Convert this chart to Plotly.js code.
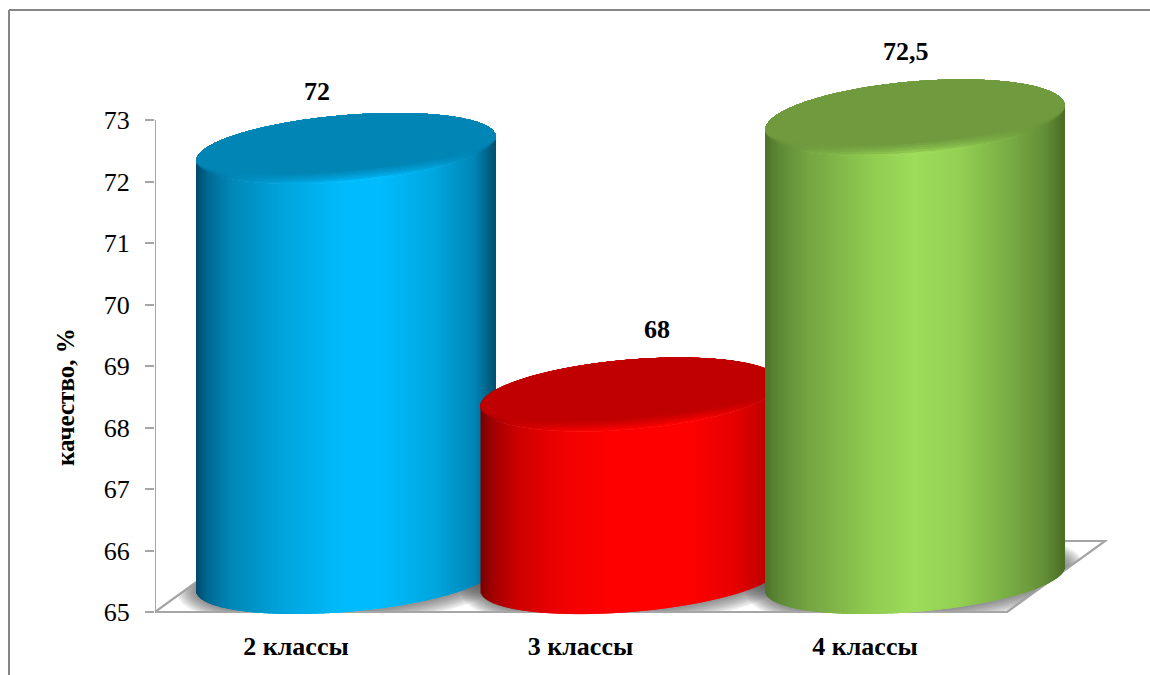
<!DOCTYPE html>
<html>
<head>
<meta charset="utf-8">
<script src="https://cdn.plot.ly/plotly-3.0.1.min.js"></script>
<style>html,body{margin:0;padding:0;background:#fff;overflow:hidden}</style>
</head>
<body>
<div id="chart" style="width:1150px;height:675px"></div>
<script>
// ---- data ----
var categories = ['2 классы', '3 классы', '4 классы'];
var values = [72, 68, 72.5];
var valueLabels = ['72', '68', '72,5'];
var yTicks = [65, 66, 67, 68, 69, 70, 71, 72, 73];

// ---- styling / layout constants (pixels of the 1150x675 frame) ----
var serif = '"Liberation Serif", "Times New Roman", serif';
var PX_X = 284.5, PX_Y = 61.5;          // pixels per category, per percent
var L = 155, R = 1110, T = 15, B = 625; // plot rectangle
var X0 = 296, Y65 = 612;                // pixel of first category, of value 65
var xr = [(L - X0) / PX_X, (R - X0) / PX_X];
var yr = [65 - (B - Y65) / PX_Y, 65 + (Y65 - T) / PX_Y];
var DX = 50 / PX_X, DY = 33 / PX_Y;     // half-depth offset of the 3D bars
var A = 150, S = 12, RIM = 11;          // ellipse half width, tilt, rim depth
var BASE_H = 33;                        // half height of the bottom ellipse
var lidH = [33.5, 35, 36.5];            // half height of each lid
var palettes = [
  {flat: '#0085b5', stops: [[0,'#004a6a'],[.04,'#006a94'],[.12,'#0088b8'],[.3,'#00a6de'],[.5,'#00bbfd'],[.62,'#00bbfd'],[.8,'#00a6de'],[.93,'#0086b6'],[1,'#00516f']]},
  {flat: '#c00000', stops: [[0,'#7a0000'],[.04,'#a00000'],[.12,'#cc0000'],[.28,'#f20000'],[.45,'#ff0000'],[.7,'#ff0000'],[.85,'#e60000'],[.95,'#c00000'],[1,'#860000']]},
  {flat: '#6f9a3e', stops: [[0,'#4c7329'],[.05,'#5f8a35'],[.15,'#74a642'],[.35,'#8fcb50'],[.5,'#9ddc5a'],[.65,'#93d053'],[.82,'#78ab44'],[.94,'#628c36'],[1,'#4a6e25']]}
];

function rgb(h){return [1,3,5].map(function(i){return parseInt(h.substr(i,2),16);});}
function mix(a,b,t){var p=rgb(a),q=rgb(b);return '#'+p.map(function(v,i){
  var c=Math.round(v+(q[i]-v)*t).toString(16);return c.length<2?'0'+c:c;}).join('');}
function shade(stops,f){
  for(var i=1;i<stops.length;i++){ if(f<=stops[i][0]){
    return mix(stops[i-1][1],stops[i][1],(f-stops[i-1][0])/(stops[i][0]-stops[i-1][0])); } }
  return stops[stops.length-1][1];
}
// edge of a tilted ellipse in value units; u in [-1,1], sign +1 upper / -1 lower
function edge(vc,u,sign,h){ return vc + (S*u + sign*h*Math.sqrt(Math.max(0,1-u*u)))/PX_Y; }

var N = 2*A - 1;                 // one strip per pixel
var strips = [];
for (var s=0;s<N;s++){ strips.push((s+.5)/N*2-1); }
var traces = [];

values.forEach(function(v,i){
  var cx = i + DX, vTop = v + DY, vBot = 65 + DY, pal = palettes[i], h = lidH[i];
  var xs = strips.map(function(u){return cx+u*(A-.5)/PX_X;});
  var body = strips.map(function(u){return shade(pal.stops,(u+1)/2);});
  var stripW = 2/PX_X;           // strips overlap so no seams can appear
  // cylinder side
  var base = strips.map(function(u){return edge(vBot,u,-1,BASE_H);});
  var top  = strips.map(function(u){return edge(vTop,u,-1,h);});
  traces.push({type:'bar',x:xs,base:base,y:top.map(function(t,k){return t-base[k];}),width:stripW,
    marker:{color:body,line:{width:0}},hoverinfo:'skip',showlegend:false,cliponaxis:false});
  // top face: lit rim blending into the flat lid
  var layers = 6;
  for (var k=0;k<layers;k++){
    var t = k/(layers-1);
    var lo = strips.map(function(u){
      return edge(vTop,u,-1,h) + t*RIM*Math.sqrt(Math.max(0,1-u*u))/PX_Y; });
    var hi = strips.map(function(u){return edge(vTop,u,1,h);});
    traces.push({type:'bar',x:xs,base:lo,y:hi.map(function(e,m){return e-lo[m];}),width:stripW,
      marker:{color:body.map(function(c){return mix(c,pal.flat,Math.pow(t,.7));}),line:{width:0}},
      hoverinfo:'skip',showlegend:false,cliponaxis:false});
  }
});

// ---- floor, shadows, axis line, frame ----
var floorD = 98/PX_X, floorH = 71/PX_Y, floorW = 852/PX_X;
function clampFloor(x,y){
  var yy = Math.min(Math.max(y,65),65+floorH);
  var f = (yy-65)/floorH;
  var xl = xr[0]+floorD*f, xh = xr[0]+floorW+floorD*f;
  return [Math.min(Math.max(x,xl),xh),yy];
}
function pathOf(pts){return 'M'+pts.map(function(p){return p[0]+','+p[1];}).join('L')+'Z';}
var shapes = [];
var axisGrey = '#a6a6a6';
var floorPath = pathOf([[xr[0],65],[xr[0]+floorW,65],[xr[0]+floorW+floorD,65+floorH],[xr[0]+floorD,65+floorH]]);
shapes.push({type:'path',layer:'below',xref:'x',yref:'y',path:floorPath,
  fillcolor:'#ffffff',line:{color:axisGrey,width:2}});
values.forEach(function(v,i){
  for (var g=20;g>=2;g-=2){
    var pts=[];
    for (var a=0;a<72;a++){
      var th=a/72*2*Math.PI, u=Math.cos(th), w=Math.sin(th);
      var x=i+DX+(A+g)*u/PX_X;
      var y=65+DY+(S*u+(BASE_H+g*.75)*w)/PX_Y;
      pts.push(clampFloor(x,y));
    }
    shapes.push({type:'path',layer:'below',xref:'x',yref:'y',path:pathOf(pts),
      fillcolor:'rgba(60,60,60,0.07)',line:{width:0}});
  }
});
// floor outline above the shadows
shapes.push({type:'path',layer:'below',xref:'x',yref:'y',path:floorPath,
  fillcolor:'rgba(0,0,0,0)',line:{color:axisGrey,width:2}});
// value axis line
shapes.push({type:'line',layer:'below',xref:'x',yref:'y',x0:xr[0],x1:xr[0],y0:yTicks[0],y1:yTicks[yTicks.length-1],
  line:{color:axisGrey,width:2}});
// outer frame: only its top and left sides fall inside the picture
var frameX = (9-L)/(R-L), frameY = (B-10)/(B-T);
shapes.push({type:'line',xref:'paper',yref:'paper',x0:frameX,x1:(1150-L)/(R-L),y0:frameY,y1:frameY,
  line:{color:'#868686',width:2}});
shapes.push({type:'line',xref:'paper',yref:'paper',x0:frameX,x1:frameX,y0:frameY,y1:(B-675)/(B-T),
  line:{color:'#868686',width:2}});

// ---- value labels and axis title ----
var labelNudgeX = [21, 76, 41], labelRise = [90, 98, 99];
var annotations = values.map(function(v,i){
  return {x:i+labelNudgeX[i]/PX_X, y:v+labelRise[i]/PX_Y, text:'<b>'+valueLabels[i]+'</b>',
    showarrow:false, xanchor:'center', yanchor:'middle',
    font:{family:serif,size:26,color:'#000'}};
});
annotations.push({xref:'paper',yref:'paper',x:(65-L)/(R-L),y:(B-397)/(B-T),text:'<b>качество, %</b>',
  textangle:-90,showarrow:false,xanchor:'center',yanchor:'middle',
  font:{family:serif,size:25,color:'#000'}});

Plotly.newPlot('chart',traces,{
  width:1150,height:675,autosize:false,
  margin:{l:L,r:1150-R,t:T,b:675-B,pad:0},
  paper_bgcolor:'#ffffff',plot_bgcolor:'rgba(0,0,0,0)',
  barmode:'overlay',showlegend:false,
  shapes:shapes,annotations:annotations,
  xaxis:{range:xr,tickmode:'array',tickvals:categories.map(function(c,i){return i;}),
    ticktext:categories.map(function(c){return '<b>'+c+'</b>';}),
    showgrid:false,zeroline:false,showline:false,ticks:'',ticklabelstandoff:3,
    tickfont:{family:serif,size:26,color:'#000'}},
  yaxis:{range:yr,tickmode:'array',tickvals:yTicks,ticktext:yTicks.map(String),
    showgrid:false,zeroline:false,showline:false,ticks:'outside',ticklen:9,tickwidth:2,tickcolor:axisGrey,
    ticklabelstandoff:10,
    tickfont:{family:serif,size:26,color:'#000'}}
},{displayModeBar:false,staticPlot:true});
</script>
</body>
</html>
